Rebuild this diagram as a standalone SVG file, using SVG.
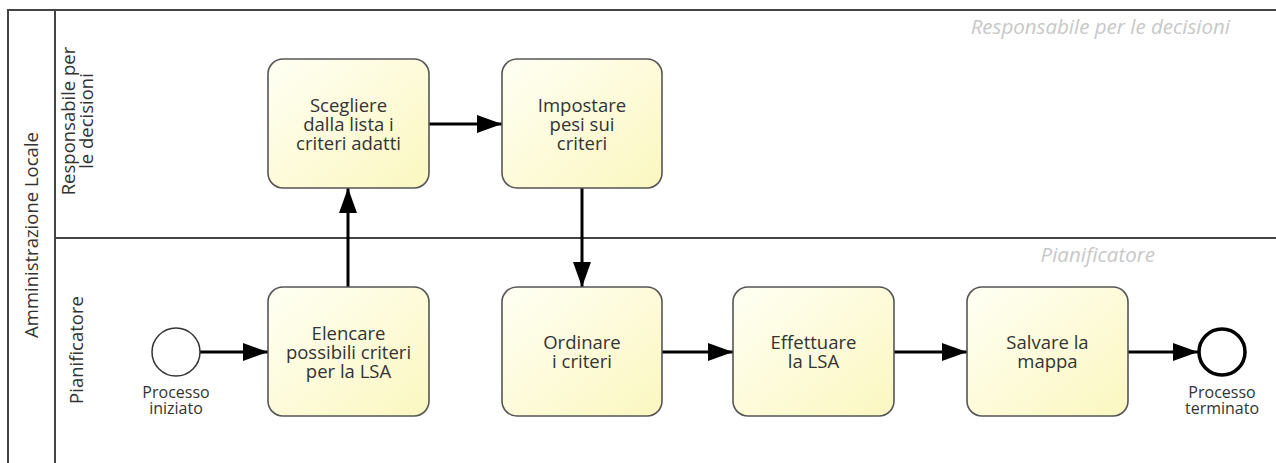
<svg xmlns="http://www.w3.org/2000/svg" width="1276" height="463" viewBox="0 0 1276 463">
<style>
.pool{fill:none;stroke:#444;stroke-width:2}
.task{stroke:#555;stroke-width:1.6;fill:url(#g)}
.t{font-family:"Open Sans","Liberation Sans",sans-serif;font-size:18.5px;fill:#333;text-anchor:middle}
.ev{font-size:16px}
.wm{font-family:"Open Sans","Liberation Sans",sans-serif;font-size:20.5px;font-style:italic;fill:#c8c8c8;text-anchor:end}
.c{stroke:#000;stroke-width:3;fill:none;marker-end:url(#a)}
</style>
<defs>
<linearGradient id="g" x1="0" y1="0" x2="1" y2="1">
<stop offset="0" stop-color="#fffff4"/>
<stop offset="1" stop-color="#fbf7c0"/>
</linearGradient>
<marker id="a" markerWidth="25" markerHeight="18" refX="25" refY="9" orient="auto" markerUnits="userSpaceOnUse">
<path d="M0,0 L25,9 L0,18 Z" fill="#000"/>
</marker>
</defs>
<rect width="1276" height="463" fill="#fff"/>
<g id="pool">
<path class="pool" d="M8,470 L8,10 L1280,10 M55,10 L55,470 M55,238 L1280,238"/>
<text class="t" font-size="19" transform="translate(38,235) rotate(-90)">Amministrazione Locale</text>
</g>
<g id="lane1">
<text class="t" transform="translate(75,121) rotate(-90)"><tspan x="0" y="0">Responsabile per</tspan><tspan x="0" y="17.5">le decisioni</tspan></text>
<text class="wm" x="1230" y="34">Responsabile per le decisioni</text>
</g>
<g id="lane2">
<text class="t" transform="translate(83,350) rotate(-90)">Pianificatore</text>
<text class="wm" x="1155" y="262">Pianificatore</text>
</g>
<g id="connectors">
<path class="c" d="M200,352 L268,352"/>
<path class="c" d="M348,287 L348,188"/>
<path class="c" d="M429,124 L502,124"/>
<path class="c" d="M582,188 L582,287"/>
<path class="c" d="M662,352 L733,352"/>
<path class="c" d="M894,352 L967,352"/>
<path class="c" d="M1128,352 L1198,352"/>
</g>
<g id="start">
<circle cx="176" cy="352" r="24" fill="#fff" stroke="#333" stroke-width="1.5"/>
<text class="t ev"><tspan x="176" y="398">Processo</tspan><tspan x="176" y="414">iniziato</tspan></text>
</g>
<g id="scegliere">
<rect class="task" x="268" y="59" width="161" height="129" rx="15"/>
<text class="t"><tspan x="348.5" y="112">Scegliere</tspan><tspan x="348.5" y="131">dalla lista i</tspan><tspan x="348.5" y="150">criteri adatti</tspan></text>
</g>
<g id="impostare">
<rect class="task" x="502" y="59" width="160" height="129" rx="15"/>
<text class="t"><tspan x="582" y="112">Impostare</tspan><tspan x="582" y="131">pesi sui</tspan><tspan x="582" y="150">criteri</tspan></text>
</g>
<g id="elencare">
<rect class="task" x="268" y="287" width="161" height="129" rx="15"/>
<text class="t"><tspan x="348.5" y="340">Elencare</tspan><tspan x="348.5" y="359">possibili criteri</tspan><tspan x="348.5" y="378">per la LSA</tspan></text>
</g>
<g id="ordinare">
<rect class="task" x="502" y="287" width="160" height="129" rx="15"/>
<text class="t"><tspan x="582" y="349">Ordinare</tspan><tspan x="582" y="368">i criteri</tspan></text>
</g>
<g id="effettuare">
<rect class="task" x="733" y="287" width="161" height="129" rx="15"/>
<text class="t"><tspan x="813.5" y="349">Effettuare</tspan><tspan x="813.5" y="368">la LSA</tspan></text>
</g>
<g id="salvare">
<rect class="task" x="967" y="287" width="161" height="129" rx="15"/>
<text class="t"><tspan x="1047.5" y="349">Salvare la</tspan><tspan x="1047.5" y="368">mappa</tspan></text>
</g>
<g id="end">
<circle cx="1222" cy="352" r="23" fill="#fff" stroke="#000" stroke-width="3.5"/>
<text class="t ev"><tspan x="1222" y="398">Processo</tspan><tspan x="1222" y="414">terminato</tspan></text>
</g>
</svg>
